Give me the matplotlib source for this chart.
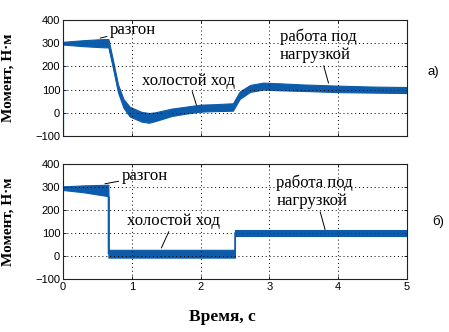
import matplotlib
matplotlib.use("Agg")
import matplotlib.pyplot as plt

# ---- data ----
# (a) top panel: time knots, centre value, half-width of the noisy band
t_a = [0.0, 0.0, 0.3, 0.6, 0.66, 0.73, 0.80, 0.88, 0.97, 1.14, 1.25, 1.34, 1.58, 1.8, 2.0, 2.2, 2.47, 2.57, 2.72, 2.91, 3.15, 3.5, 4.0, 4.5, 5.0]
m_a = [-100, 300, 300, 300, 300, 205, 105, 40, 5, -17, -22, -17, 2, 12, 20, 22, 25, 76, 105, 115, 112, 108, 103, 100, 98]
w_a = [0, 6, 13, 18, 18, 17, 17, 19, 21, 21, 21, 19, 16, 15, 15, 15, 16, 16, 15, 15, 15, 14, 14, 13, 13]

# (b) bottom panel
t_b = [0.0, 0.3, 0.66, 0.66, 1.0, 2.0, 2.5, 2.5, 3.0, 4.0, 5.0]
m_b = [295, 292, 285, 10, 10, 10, 10, 100, 100, 100, 100]
w_b = [8, 15, 25, 17, 17, 17, 17, 13, 13, 13, 13]

x_ticks = [0, 1, 2, 3, 4, 5]
y_ticks = [-100, 0, 100, 200, 300, 400]

# annotations: (text, text position, arrow end)
ann_a = [("разгон", (0.68, 355), (0.54, 322)),
         ("холостой ход", (1.83, 138), (1.94, 33)),
         ("работа под\nнагрузкой", (3.15, 290), (3.86, 128))]
ann_b = [("разгон", (0.85, 346), (0.61, 314)),
         ("холостой ход", (1.61, 153), (1.43, 35)),
         ("работа под\nнагрузкой", (3.10, 280), (3.81, 115))]

COLOR = "#0d5cab"

fig = plt.figure(figsize=(4.49, 3.32), dpi=100)
ax_a = fig.add_axes([0.1403, 0.5904, 0.766, 0.3494])
ax_b = fig.add_axes([0.1403, 0.1596, 0.766, 0.3464])

serif = ["Liberation Serif", "DejaVu Serif"]
sans = ["Liberation Sans", "DejaVu Sans"]


def draw(ax, t, m, w, anns, show_x):
    lo = [a - b for a, b in zip(m, w)]
    hi = [a + b for a, b in zip(m, w)]
    ax.fill_between(t, lo, hi, color=COLOR, lw=0.8, edgecolor=COLOR)
    ax.plot(t, m, color=COLOR, lw=1.0)
    ax.set_xlim(0, 5)
    ax.set_ylim(-100, 400)
    ax.set_xticks(x_ticks)
    ax.set_yticks(y_ticks)
    ax.grid(True, color="black", linestyle=(0, (1, 3)), linewidth=0.7)
    ax.tick_params(direction="in", top=True, right=True, length=2.5,
                   width=0.6, labelsize=8, pad=2)
    for lab in ax.get_xticklabels() + ax.get_yticklabels():
        lab.set_fontfamily(sans)
    if not show_x:
        ax.set_xticklabels([])
    for s in ax.spines.values():
        s.set_linewidth(0.8)
        s.set_color("#222222")
    ax.set_ylabel("Момент, Н·м", family=serif, fontweight="bold", fontsize=11)
    ax.yaxis.set_label_coords(-0.14, 0.5)
    for txt, xy_t, xy_a in anns:
        ax.annotate(txt, xy=xy_a, xytext=xy_t, family=serif, fontsize=12,
                    va="center", ha="left" if "\n" in txt or txt == "разгон" else "center",
                    linespacing=1.2,
                    arrowprops=dict(arrowstyle="-", color="black", lw=0.7,
                                    shrinkA=0, shrinkB=0))


draw(ax_a, t_a, m_a, w_a, ann_a, False)
draw(ax_b, t_b, m_b, w_b, ann_b, True)

fig.text(433 / 449, 1 - 72 / 332, "а)", family=sans, fontsize=9.5, ha="center", va="center")
fig.text(438 / 449, 1 - 222 / 332, "б)", family=sans, fontsize=9.5, ha="center", va="center")
fig.text(222 / 449, 1 - 317 / 332, "Время, с", family=serif, fontweight="bold",
         fontsize=12.5, ha="center", va="center")

fig.savefig("out.png", dpi=100)
